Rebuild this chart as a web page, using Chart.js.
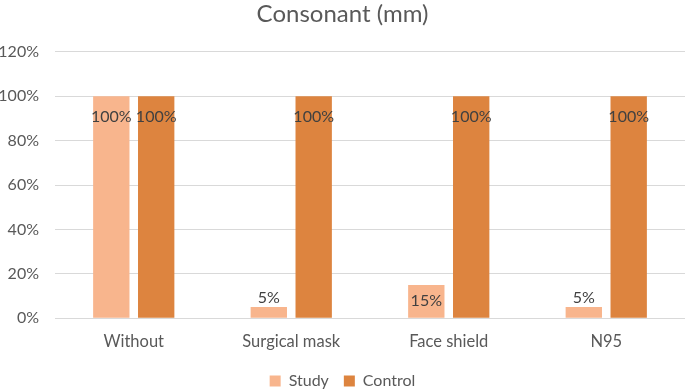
<!DOCTYPE html>
<html>
<head>
    <title>Consonant (mm)</title>
    <script src="https://cdn.jsdelivr.net/npm/chart.js"></script>
    <style>
        body {
            margin: 0;
            padding: 0;
            background-color: #fff;
            overflow: hidden;
        }
        #chart-container {
            position: relative;
            width: 685px;
            height: 390px;
        }
    </style>
</head>
<body>
    <div id="chart-container">
        <canvas id="myChart"></canvas>
    </div>

    <script>
        // Datos del gráfico
        const categories = ['Without', 'Surgical mask', 'Face shield', 'N95'];
        const studyValues = [100, 5, 15, 5];
        const controlValues = [100, 100, 100, 100];
        const yTicks = [0, 20, 40, 60, 80, 100, 120];

        const textColor = '#595959';
        const fontFamily = "Lato, 'Open Sans', sans-serif";

        // Etiquetas de datos estilo Excel
        const barLabels = {
            id: 'barLabels',
            afterDatasetsDraw(chart) {
                const ctx = chart.ctx;
                ctx.save();
                ctx.font = '16px ' + fontFamily;
                ctx.fillStyle = '#404040';
                ctx.textAlign = 'center';
                ctx.textBaseline = 'middle';
                chart.data.datasets.forEach((ds, i) => {
                    const meta = chart.getDatasetMeta(i);
                    meta.data.forEach((bar, j) => {
                        const h = bar.base - bar.y;
                        let y;
                        if (h >= 30) {
                            y = bar.y + Math.min(21, h / 2);
                        } else {
                            y = bar.y - 9;
                        }
                        ctx.fillText(ds.data[j] + '%', bar.x, y);
                    });
                });
                ctx.restore();
            }
        };

        new Chart(document.getElementById('myChart'), {
            type: 'bar',
            data: {
                labels: categories,
                datasets: [{
                    label: 'Study',
                    data: studyValues,
                    backgroundColor: '#F8B58D',
                    categoryPercentage: 0.57,
                    barPercentage: 0.81
                }, {
                    label: 'Control',
                    data: controlValues,
                    backgroundColor: '#DD843F',
                    categoryPercentage: 0.57,
                    barPercentage: 0.81
                }]
            },
            options: {
                responsive: true,
                maintainAspectRatio: false,
                animation: false,
                layout: {
                    padding: { left: 0, right: 0, top: 0, bottom: -9 }
                },
                plugins: {
                    title: {
                        display: true,
                        text: 'Consonant (mm)',
                        color: textColor,
                        font: { size: 24, family: fontFamily, weight: 'normal' },
                        padding: { top: 0, bottom: 23 }
                    },
                    legend: {
                        position: 'bottom',
                        labels: {
                            color: textColor,
                            font: { size: 16, family: fontFamily },
                            boxWidth: 11,
                            boxHeight: 11,
                            padding: 15
                        }
                    },
                    tooltip: { enabled: false }
                },
                scales: {
                    x: {
                        grid: { display: false },
                        border: { display: false },
                        ticks: {
                            color: textColor,
                            font: { size: 16.5, family: fontFamily },
                            padding: 6
                        }
                    },
                    y: {
                        min: 0,
                        max: 120,
                        afterBuildTicks(axis) {
                            axis.ticks = yTicks.map(v => ({ value: v }));
                        },
                        afterFit(axis) {
                            axis.width = 55;
                        },
                        grid: {
                            color: '#D9D9D9',
                            lineWidth: 1,
                            drawTicks: false
                        },
                        border: { display: false },
                        ticks: {
                            color: textColor,
                            font: { size: 16, family: fontFamily },
                            padding: 16,
                            callback: v => v + '%'
                        }
                    }
                }
            },
            plugins: [barLabels]
        });
    </script>
</body>
</html>
